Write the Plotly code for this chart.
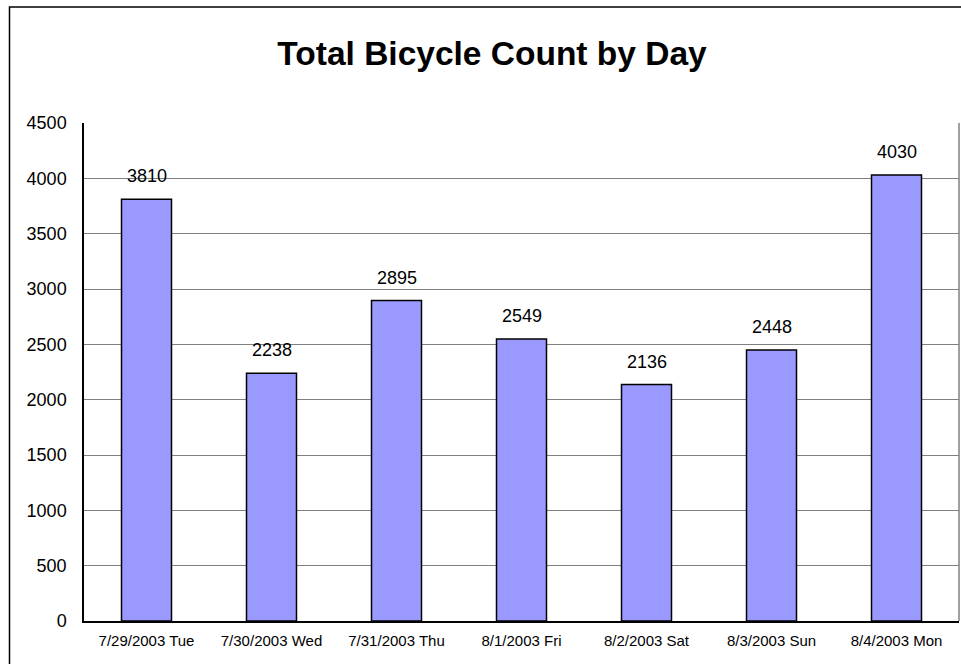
import plotly.graph_objects as go

categories = ["7/29/2003 Tue", "7/30/2003 Wed", "7/31/2003 Thu", "8/1/2003 Fri",
              "8/2/2003 Sat", "8/3/2003 Sun", "8/4/2003 Mon"]
counts = [3810, 2238, 2895, 2549, 2136, 2448, 4030]
y_ticks = [0, 500, 1000, 1500, 2000, 2500, 3000, 3500, 4000, 4500]

FONT = "Liberation Sans, Arial, sans-serif"

fig = go.Figure()
fig.add_trace(go.Bar(
    x=categories, y=counts,
    marker=dict(color="#9999FF", line=dict(color="black", width=1.5)),
    width=0.4,
    hoverinfo="x+y",
))

for c, v in zip(categories, counts):
    fig.add_annotation(x=c, y=v, text=str(v), showarrow=False,
                       yanchor="bottom", yshift=11,
                       font=dict(family=FONT, size=18, color="black"))

fig.update_layout(
    width=961, height=664,
    margin=dict(l=84, r=2, t=123, b=43),
    paper_bgcolor="white", plot_bgcolor="white",
    showlegend=False,
    title=dict(text="<b>Total Bicycle Count by Day</b>", x=492/961, xanchor="center",
               y=1 - 53/664, yanchor="middle",
               font=dict(family=FONT, size=33.5, color="black")),
    font=dict(family=FONT, color="black"),
    bargap=0.6,
)
fig.update_xaxes(
    showline=True, linecolor="black", linewidth=1.5,
    tickfont=dict(family=FONT, size=15, color="black"),
    ticks="", ticklabelstandoff=5, showgrid=False,
)
fig.update_yaxes(
    range=[0, 4500], tickvals=y_ticks, ticktext=[str(t) for t in y_ticks],
    showline=True, linecolor="black", linewidth=1.5,
    showgrid=True, gridcolor="#808080", gridwidth=1,
    tickfont=dict(family=FONT, size=18, color="black"),
    ticks="", ticklabelstandoff=12, zeroline=False,
)
# plot-area right border (gray)
fig.add_shape(type="line", xref="paper", yref="paper", x0=1, x1=1, y0=0, y1=1,
              line=dict(color="#808080", width=1.5))
# outer chart frame
fig.add_shape(type="rect", xref="paper", yref="paper",
              x0=(9.5 - 84) / 875, x1=1.2, y0=-0.3, y1=(621 - 7) / 498,
              line=dict(color="black", width=1.5), layer="below")

fig.write_html("out.html", config={"displayModeBar": False},
               post_script="document.body.style.margin='0';document.body.style.overflow='hidden';")
